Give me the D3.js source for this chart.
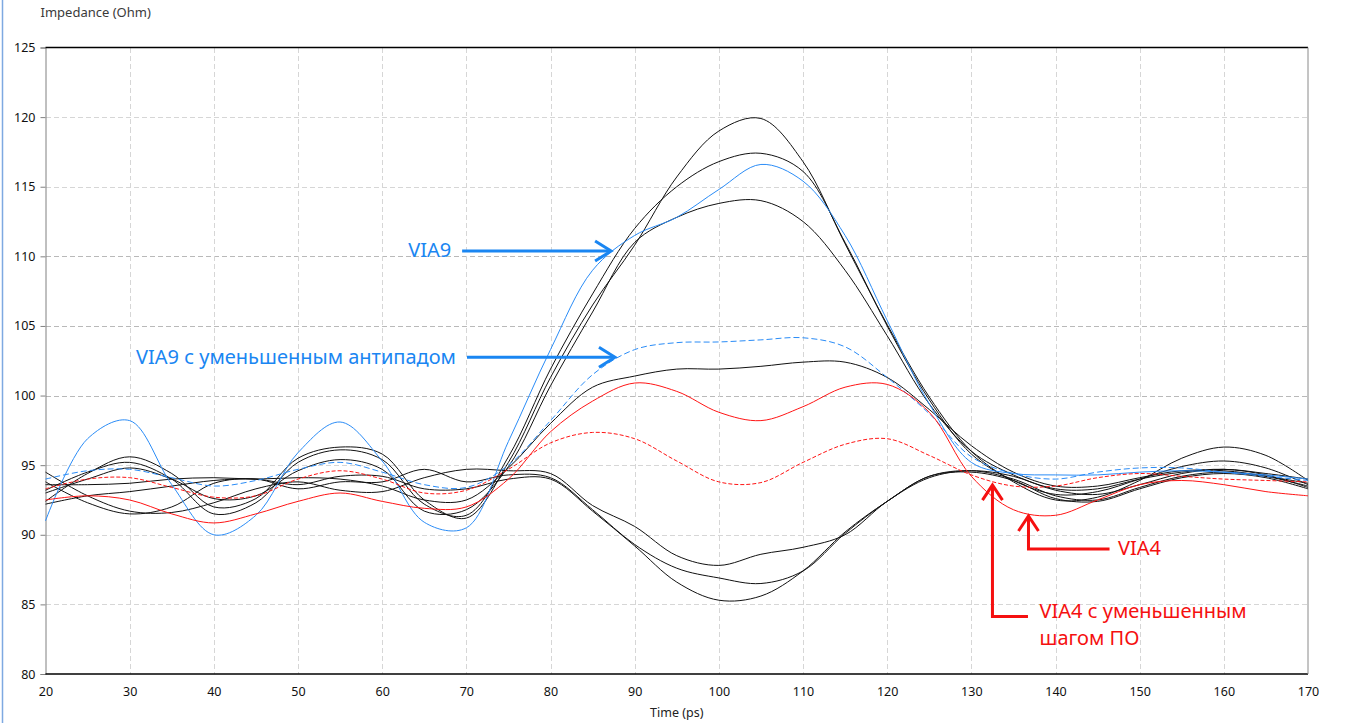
<!DOCTYPE html>
<html><head><meta charset="utf-8">
<script src="https://cdn.jsdelivr.net/npm/d3@7"></script>
<style>
html,body{margin:0;padding:0;background:#fff;}
svg{display:block;}
</style></head><body>
<svg id="chart" width="1362" height="723"></svg>
<script>
// ---------------- data ----------------
const time = [20,25,30,35,40,45,50,55,60,65,70,75,80,85,90,95,100,105,110,115,120,125,130,135,140,145,150,155,160,165,170];

const via9 = [91.0,96.9,98.2,93.6,90.0,91.4,95.9,98.1,95.3,90.9,90.5,96.7,103.3,109.0,111.5,112.8,114.8,116.6,115.4,111.5,105.4,99.4,95.2,94.4,94.3,94.3,94.5,94.6,94.5,94.3,94.0];
const via9Antipad = [94.0,94.6,94.7,94.1,93.5,93.9,94.7,95.2,94.5,93.6,93.4,95.0,98.2,101.5,103.3,103.8,103.85,104.0,104.15,103.5,101.3,98.7,95.6,94.4,94.0,94.5,94.8,94.8,94.5,94.2,93.9];
const via4 = [92.5,92.8,92.5,91.5,90.85,91.5,92.4,93.0,92.4,91.9,92.0,94.0,97.4,99.6,100.9,100.3,98.8,98.2,99.2,100.6,100.8,98.8,94.2,91.8,91.4,92.5,93.6,93.9,93.6,93.1,92.8];
const via4Pitch = [93.3,94.0,94.1,93.4,92.7,92.8,94.0,94.6,94.0,93.0,93.2,94.7,96.6,97.35,96.9,95.3,93.8,93.75,95.2,96.5,96.9,95.7,94.3,93.5,93.5,94.1,94.4,94.2,94.0,93.9,93.8];

const other1 = [92.4,94.4,95.6,94.4,92.0,92.6,95.5,96.3,95.8,92.5,91.2,95.2,101.3,106.5,110.8,115.7,119.0,119.9,116.8,110.9,105.1,99.9,96.0,93.8,92.5,92.7,93.9,95.5,96.3,95.7,93.9];
const other2 = [93.2,94.5,95.2,94.0,91.5,92.3,95.2,96.1,95.4,92.2,91.4,95.6,101.9,107.3,112.0,115.0,116.8,117.4,116.1,111.0,105.0,99.7,95.8,93.9,92.9,93.1,94.0,94.9,95.3,94.8,93.6];
const other3 = [93.0,94.0,94.8,94.0,92.6,92.8,94.6,95.4,94.7,91.7,91.8,94.9,100.7,106.0,111.0,112.8,113.8,114.0,112.5,109.0,104.3,99.4,96.0,94.3,93.3,93.3,94.0,94.5,94.7,94.3,93.4];
const other4 = [93.6,93.6,93.7,94.0,94.1,94.0,94.1,94.0,93.5,92.5,92.5,94.8,98.0,100.6,101.4,101.9,101.9,102.1,102.4,102.4,101.3,99.0,96.4,94.5,93.5,93.5,94.1,94.6,94.6,94.2,93.5];
const other5 = [94.5,92.8,91.7,91.6,92.3,93.3,93.8,93.2,93.1,94.1,94.7,94.6,94.4,92.1,90.6,88.5,87.8,88.6,89.1,90.0,92.4,94.1,94.6,94.2,93.2,92.9,93.6,94.4,94.7,94.4,94.0];
const other6 = [93.8,92.3,91.5,92.0,93.7,94.0,93.3,93.8,93.8,94.7,93.8,94.3,94.1,91.8,89.3,87.6,86.9,86.5,87.4,90.1,92.4,94.2,94.6,94.0,92.8,92.5,93.4,94.2,94.5,94.2,93.7];
const other7 = [92.2,92.8,93.1,93.5,93.9,94.0,93.6,94.2,94.2,93.3,93.3,94.0,94.0,91.7,89.2,86.6,85.3,85.6,87.4,90.2,92.4,94.2,94.5,93.9,92.6,92.4,93.3,94.1,94.4,94.1,93.3];

const yTicks = [80,85,90,95,100,105,110,115,120,125];
const xTicks = [20,30,40,50,60,70,80,90,100,110,120,130,140,150,160,170];

const yTitle = "Impedance (Ohm)";
const xTitle = "Time (ps)";

// annotation anchors in data units
const noteVia9 = {text:"VIA9", at:[68.2,110.45], from:[69.5,110.38], to:[87.2,110.38]};
const noteVia9A = {text:"VIA9 с уменьшенным антипадом", at:[68.77,102.77], from:[70.08,102.75], to:[87.66,102.75]};
const noteVia4 = {text:"VIA4", at:[147.42,89.05], path:[[146.42,88.98],[136.79,88.98],[136.79,91.35]]};
const noteVia4P = {lines:["VIA4 с уменьшенным","шагом ПО"], at:[138.1,84.52], at2:[138.1,82.58], path:[[136.73,84.13],[132.51,84.13],[132.51,93.57]]};

// ---------------- drawing ----------------
const svg = d3.select("#chart");
const L = 45.5, R = 1308, T = 47.5, B = 674;
const x = d3.scaleLinear().domain([20,170]).range([L,R]);
const y = d3.scaleLinear().domain([80,125]).range([B,T]);

const BLUE = "#2a8cf7", RED = "#ff1414", ABLUE = "#1a86f2", ARED = "#f51010";
const tickFont = "'Noto Sans', 'Open Sans', sans-serif";
const noteFont = "'Noto Sans', sans-serif";

// window border line at far left
svg.append("line").attr("x1",2.5).attr("x2",2.5).attr("y1",0).attr("y2",723)
  .attr("stroke","#7ea9e1").attr("stroke-width",1.5);

// grid
const grid = svg.append("g").attr("shape-rendering","crispEdges");
grid.selectAll("line.h").data(yTicks.filter(d=>d>80 && d<125)).join("line")
  .attr("x1",L).attr("x2",R).attr("y1",d=>Math.round(y(d))+0.5).attr("y2",d=>Math.round(y(d))+0.5)
  .attr("stroke",d=>(d>=100 && d<=110)?"#b9b9b9":"#d6d6d6").attr("stroke-dasharray","5,3");
grid.selectAll("line.v").data(xTicks.filter(d=>d>20 && d<170)).join("line")
  .attr("y1",T).attr("y2",B).attr("x1",d=>Math.round(x(d))+0.5).attr("x2",d=>Math.round(x(d))+0.5)
  .attr("stroke","#d6d6d6").attr("stroke-dasharray","5,3");

// axes
const yAxis = d3.axisLeft(y).tickValues(yTicks).tickSize(5).tickPadding(5).tickFormat(d3.format("d"));
const gy = svg.append("g").attr("transform",`translate(${L},0)`).call(yAxis);
gy.select(".domain").attr("stroke","#808080");
gy.selectAll(".tick line").attr("stroke","#808080");
gy.selectAll(".tick text").attr("font-family",tickFont).attr("font-size",12.5).attr("fill","#111");

const xAxis = d3.axisBottom(x).tickValues(xTicks).tickSize(0).tickPadding(13).tickFormat(d3.format("d"));
const gx = svg.append("g").attr("transform",`translate(0,${B})`).call(xAxis);
gx.select(".domain").remove();
gx.selectAll(".tick text").attr("font-family",tickFont).attr("font-size",12.5).attr("fill","#111");

// frame
svg.append("line").attr("x1",L).attr("x2",R).attr("y1",T).attr("y2",T).attr("stroke","#000").attr("stroke-width",1.4);
svg.append("line").attr("x1",L).attr("x2",R).attr("y1",B).attr("y2",B).attr("stroke","#000").attr("stroke-width",1.4);
svg.append("line").attr("x1",R).attr("x2",R).attr("y1",T).attr("y2",B).attr("stroke","#8a8a8a").attr("stroke-width",1);

// titles
svg.append("text").attr("x",40.5).attr("y",17).text(yTitle)
  .attr("font-family",tickFont).attr("font-size",13).attr("fill","#3a3a3a");
svg.append("text").attr("x",(L+R)/2).attr("y",716.5).attr("text-anchor","middle").text(xTitle)
  .attr("font-family",tickFont).attr("font-size",12.5).attr("fill","#222");

// series
const line = d3.line().x((d,i)=>x(time[i])).y(d=>y(d)).curve(d3.curveCatmullRom.alpha(0.5));
const plot = svg.append("g");
const blacks = [other1,other2,other3,other4,other5,other6,other7];
plot.selectAll("path.k").data(blacks).join("path")
  .attr("d",line).attr("fill","none").attr("stroke","#111").attr("stroke-width",1);
const colored = [
  {d:via9, c:BLUE, dash:null},
  {d:via9Antipad, c:BLUE, dash:"6,3"},
  {d:via4, c:RED, dash:null},
  {d:via4Pitch, c:RED, dash:"4,2"}
];
plot.selectAll("path.c").data(colored).join("path")
  .attr("d",s=>line(s.d)).attr("fill","none").attr("stroke",s=>s.c)
  .attr("stroke-width",1).attr("stroke-dasharray",s=>s.dash);

// annotations
const ann = svg.append("g").attr("fill","none").attr("stroke-width",3).attr("stroke-linejoin","miter").attr("stroke-linecap","butt");
function hArrow(n,color){
  const x1=x(n.from[0]), x2=x(n.to[0]), yy=y(n.to[1]);
  ann.append("line").attr("x1",x1).attr("x2",x2-1).attr("y1",yy).attr("y2",yy).attr("stroke",color);
  ann.append("polyline").attr("points",`${x2-16},${yy-10} ${x2},${yy} ${x2-16},${yy+10}`).attr("stroke",color);
  svg.append("text").attr("x",x(n.at[0])).attr("y",y(n.at[1])).attr("dy","0.35em").attr("text-anchor","end")
    .attr("font-family",noteFont).attr("font-size",20).attr("fill",color).text(n.text);
}
function elbow(p,color){
  const pts = p.map(q=>[x(q[0]),y(q[1])]);
  const tip = pts[pts.length-1];
  ann.append("polyline").attr("points",pts.slice(0,-1).map(q=>q.join(",")).join(" ")+` ${tip[0]},${tip[1]+1}`).attr("stroke",color);
  ann.append("polyline").attr("points",`${tip[0]-10},${tip[1]+15} ${tip[0]},${tip[1]} ${tip[0]+10},${tip[1]+15}`).attr("stroke",color);
}
hArrow(noteVia9,ABLUE);
hArrow(noteVia9A,ABLUE);
elbow(noteVia4.path,ARED);
elbow(noteVia4P.path,ARED);
svg.append("text").attr("x",x(noteVia4.at[0])).attr("y",y(noteVia4.at[1])).attr("dy","0.35em")
  .attr("font-family",noteFont).attr("font-size",20).attr("fill",ARED).text(noteVia4.text);
svg.append("text").attr("x",x(noteVia4P.at[0])).attr("y",y(noteVia4P.at[1])).attr("dy","0.35em")
  .attr("font-family",noteFont).attr("font-size",20).attr("fill",ARED).text(noteVia4P.lines[0]);
svg.append("text").attr("x",x(noteVia4P.at2[0])).attr("y",y(noteVia4P.at2[1])).attr("dy","0.35em")
  .attr("font-family",noteFont).attr("font-size",20).attr("fill",ARED).text(noteVia4P.lines[1]);
</script>
</body></html>
